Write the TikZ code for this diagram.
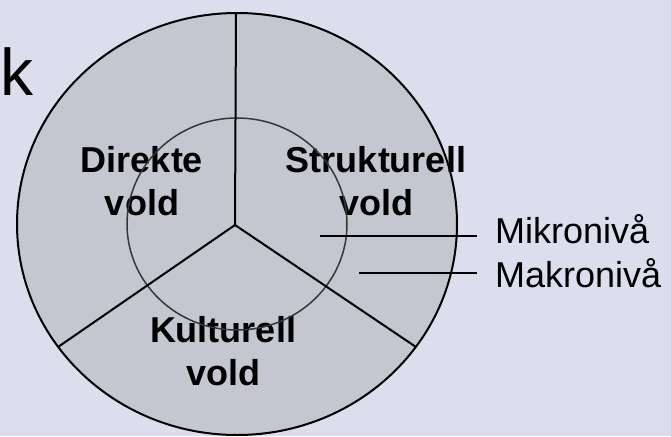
\documentclass[tikz,border=0pt]{standalone}
\usepackage{fontspec}
\setmainfont{Liberation Sans}

\definecolor{bakgrunn}{RGB}{220,222,238}
\definecolor{skive}{RGB}{196,198,208}
\definecolor{indre}{RGB}{55,55,55}

\tikzset{
  voldtekst/.style={font=\bfseries\fontsize{36}{43}\selectfont,align=center,inner sep=0pt},
  nivatekst/.style={font=\fontsize{36}{43}\selectfont,inner sep=0pt,anchor=base west},
  strek/.style={line width=2pt,black},
}

\begin{document}
\begin{tikzpicture}[x=1pt,y=-1pt]

\fill[bakgrunn] (0,0) rectangle (671,436);
\useasboundingbox (0,0) rectangle (671,436);

\node[font=\fontsize{66}{70}\selectfont,inner sep=0pt,anchor=base west] (tittel) at (0,95) {k};

\coordinate (sentrum) at (237,224);
\coordinate (nav) at (235,225);
\coordinate (topp) at (236,13);
\coordinate (venstre) at (58,347);
\coordinate (hoyre) at (416,347);

\fill[skive] (sentrum) ellipse [x radius=220pt,y radius=211pt];

\node[voldtekst] (direkte) at (142,181) {Direkte\\vold};
\node[voldtekst] (strukturell) at (376,181) {Strukturell\\vold};
\node[voldtekst] (kulturell) at (223,351) {Kulturell\\vold};

\node[nivatekst] (mikro) at (495,243) {Mikronivå};
\node[nivatekst] (makro) at (495,287) {Makronivå};

\draw[indre,line width=1.5pt] (sentrum) ellipse [x radius=110pt,y radius=106pt];
\draw[strek] (sentrum) ellipse [x radius=220pt,y radius=211pt];

\foreach \ende in {topp,venstre,hoyre}
{\draw[strek] (nav) -- (\ende);}

\coordinate (mikrostart) at (320,236);
\coordinate (makrostart) at (359,273);
\draw[strek,shorten >=18pt] (mikrostart) -- (mikrostart -| mikro.west);
\draw[strek,shorten >=18pt] (makrostart) -- (makrostart -| makro.west);
%\draw[red] (sentrum) circle (2pt);
\end{tikzpicture}
\end{document}
